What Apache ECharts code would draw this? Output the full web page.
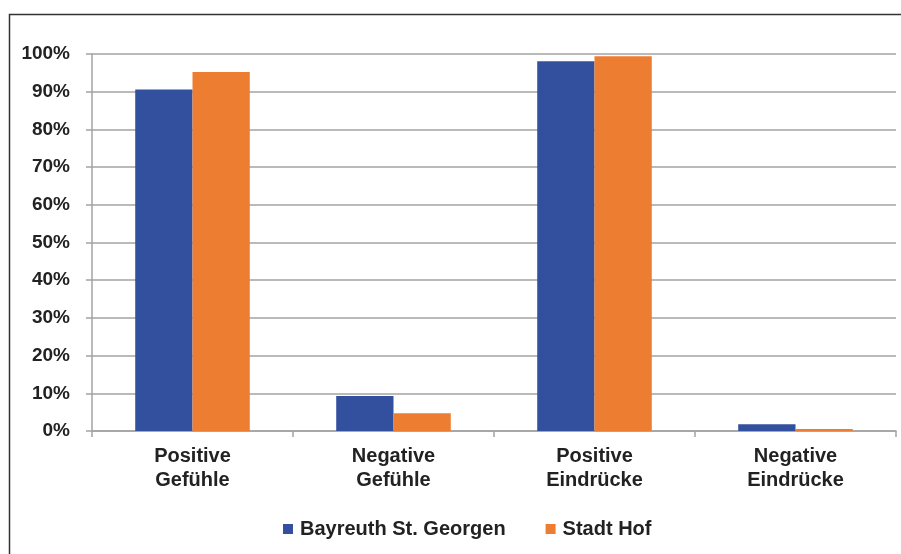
<!DOCTYPE html>
<html>
<head>
<meta charset="utf-8">
<script src="https://cdn.jsdelivr.net/npm/echarts@6/dist/echarts.min.js"></script>
<style>
  html, body { margin: 0; padding: 0; background: #fff; }
  #chart { width: 901px; height: 554px; }
</style>
</head>
<body>
<div id="chart"></div>
<script>
// Categories (two-line labels) and percentage values per location
const categories = ['Positive\nGefühle', 'Negative\nGefühle', 'Positive\nEindrücke', 'Negative\nEindrücke'];
const bayreuth = [90.6, 9.3, 98.1, 1.8];
const stadtHof = [95.2, 4.7, 99.4, 0.5];
const seriesNames = ['Bayreuth St. Georgen', 'Stadt Hof'];
const yTicks = [0, 10, 20, 30, 40, 50, 60, 70, 80, 90, 100];

const FONT = '"Liberation Sans", Arial, sans-serif';
const TEXT = '#222222';
const GRID_COLOR = '#a3a3a3';

const chart = echarts.init(document.getElementById('chart'), null, { renderer: 'canvas' });

chart.setOption({
  animation: false,
  backgroundColor: '#ffffff',
  graphic: [{
    type: 'rect',
    silent: true,
    shape: { x: 9.5, y: 14.5, width: 900, height: 600 },
    style: { fill: 'none', stroke: '#333333', lineWidth: 1.5 }
  }],
  grid: { left: 92, right: 5, top: 54, bottom: 123, containLabel: false },
  legend: {
    left: 283,
    top: 519,
    padding: 0,
    itemWidth: 10,
    itemHeight: 10,
    itemGap: 40,
    icon: 'rect',
    textStyle: { fontFamily: FONT, fontSize: 20, fontWeight: 'bold', color: TEXT, padding: [0, 0, 0, 2] },
    data: seriesNames
  },
  xAxis: {
    type: 'category',
    data: categories,
    axisLine: { lineStyle: { color: GRID_COLOR, width: 1.5 } },
    axisTick: { show: true, length: 6, lineStyle: { color: GRID_COLOR, width: 1.5 } },
    axisLabel: {
      margin: 13,
      fontFamily: FONT, fontSize: 20, fontWeight: 'bold', color: TEXT,
      lineHeight: 24
    }
  },
  yAxis: {
    type: 'value',
    min: 0,
    max: 100,
    interval: 10,
    axisLine: { show: true, lineStyle: { color: GRID_COLOR, width: 1.5 } },
    axisTick: { show: true, length: 6, lineStyle: { color: GRID_COLOR, width: 1.5 } },
    splitLine: { show: true, lineStyle: { color: GRID_COLOR, width: 1.5 } },
    axisLabel: {
      margin: 22,
      fontFamily: FONT, fontSize: 19, fontWeight: 'bold', color: TEXT,
      formatter: function (v) { return yTicks.indexOf(v) >= 0 ? v + '%' : ''; }
    }
  },
  series: [
    {
      name: seriesNames[0],
      type: 'bar',
      data: bayreuth,
      barGap: '0%',
      barCategoryGap: '43%',
      itemStyle: { color: '#33509e' }
    },
    {
      name: seriesNames[1],
      type: 'bar',
      data: stadtHof,
      barGap: '0%',
      barCategoryGap: '43%',
      itemStyle: { color: '#ed7d31' }
    }
  ]
});
</script>
</body>
</html>
